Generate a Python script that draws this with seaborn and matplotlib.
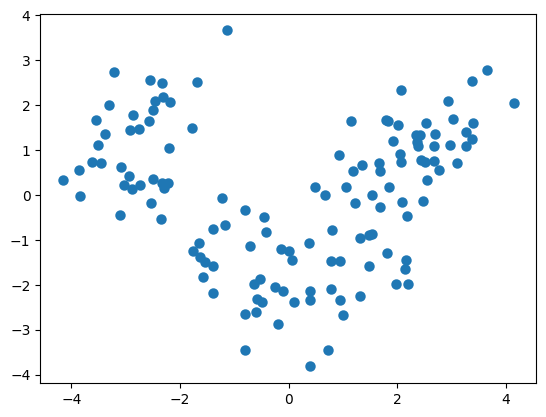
import matplotlib
matplotlib.use('Agg')
import matplotlib.pyplot as plt
import seaborn as sns

# points, grouped by cluster
left_x = [-3.21, -2.56, -2.34, -1.69, -2.47, -2.32, -2.18, -3.30, -2.49, -2.86,
          -3.54, -2.57, -2.92, -2.76, -1.79, -3.38, -3.52, -2.20, -3.63, -3.46,
          -3.09, -3.87, -4.16, -2.95, -2.50, -3.03, -2.88, -2.74, -2.33, -2.23,
          -2.30, -3.85, -2.53, -3.11, -2.36]
left_y = [2.73, 2.55, 2.48, 2.51, 2.10, 2.19, 2.06, 2.01, 1.90, 1.77,
          1.66, 1.64, 1.44, 1.46, 1.48, 1.36, 1.12, 1.04, 0.74, 0.72,
          0.61, 0.55, 0.34, 0.41, 0.36, 0.21, 0.12, 0.23, 0.27, 0.26,
          0.15, -0.03, -0.17, -0.44, -0.53]

mid_x = [-1.14, -1.23, -1.39, -1.17, -1.66, -1.77, -1.63, -1.55, -1.39, -1.58,
         -1.39, -0.81, -0.46, -0.41, -0.72, -0.15, 0.00, 0.06, 0.37, -0.53,
         -0.64, -0.26, -0.10, -0.58, -0.50, 0.10, 0.40, 0.39, -0.81, -0.61,
         -0.20, -0.80, 0.40, 0.73, 0.77, 0.95, 0.99, 0.77, 0.94, 0.79,
         1.32, 1.32, 1.47, 1.54, 1.47, 0.66, 1.22, 1.54, 0.48, 1.05,
         1.14, 0.93, 1.34, 1.18]
mid_y = [3.66, -0.08, -0.75, -0.68, -1.07, -1.24, -1.38, -1.50, -1.58, -1.82,
         -2.18, -0.33, -0.50, -0.82, -1.13, -1.20, -1.24, -1.44, -1.08, -1.88,
         -1.98, -2.04, -2.13, -2.31, -2.39, -2.38, -2.13, -2.35, -2.66, -2.60,
         -2.88, -3.45, -3.82, -3.45, -2.10, -2.33, -2.68, -1.47, -1.48, -0.78,
         -2.25, -0.95, -0.90, -0.88, -1.58, 0.00, -0.19, 0.00, 0.17, 0.17,
         1.65, 0.88, 0.66, 0.54]

right_x = [3.65, 3.37, 2.06, 2.93, 4.14, 1.79, 1.83, 2.01, 2.52, 3.02,
           2.69, 2.35, 2.42, 2.36, 2.38, 2.68, 2.97, 3.26, 3.26, 3.39,
           3.37, 1.92, 2.04, 2.06, 1.66, 1.68, 2.43, 2.51, 2.68, 2.76,
           3.09, 2.54, 1.84, 2.08, 2.47, 1.68, 2.17, 1.81, 2.15, 2.14,
           1.97, 2.19]
right_y = [2.77, 2.53, 2.33, 2.08, 2.05, 1.66, 1.65, 1.56, 1.59, 1.70,
           1.36, 1.33, 1.33, 1.18, 1.09, 1.08, 1.12, 1.08, 1.41, 1.59,
           1.25, 1.21, 0.92, 0.74, 0.70, 0.54, 0.78, 0.74, 0.76, 0.56,
           0.70, 0.34, 0.18, -0.15, -0.13, -0.28, -0.48, -1.30, -1.46, -1.64,
           -1.98, -1.98]

x = left_x + mid_x + right_x
y = left_y + mid_y + right_y

plt.figure(figsize=(6.4, 4.8), dpi=100)
sns.scatterplot(x=x, y=y, s=36, color='#1f77b4', edgecolor='#1f77b4',
                linewidth=1.5, alpha=1)
plt.savefig('out.png', dpi=100, bbox_inches='tight')
